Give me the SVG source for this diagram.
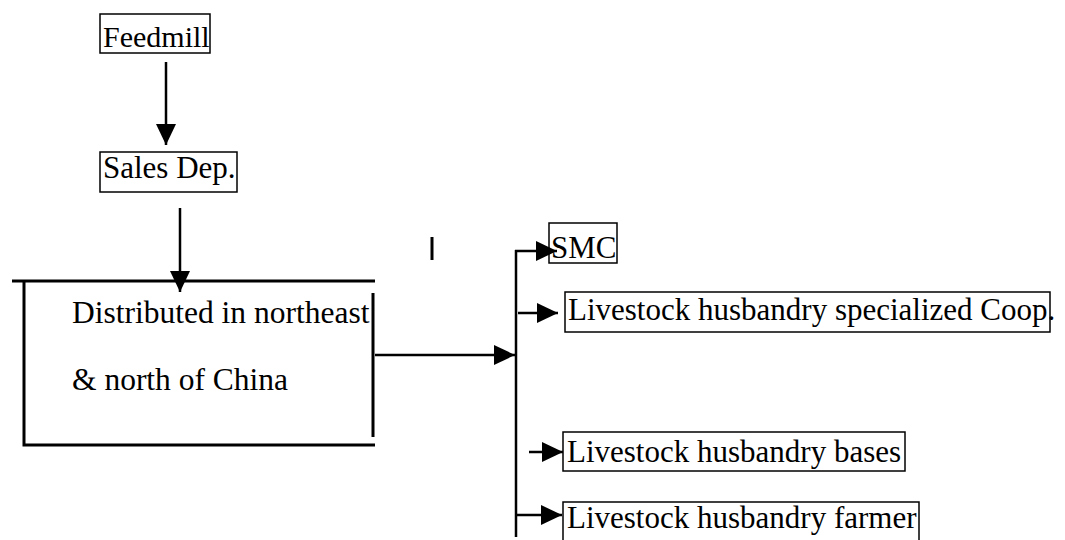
<svg xmlns="http://www.w3.org/2000/svg" width="1065" height="540" viewBox="0 0 1065 540">
<style>
  .box{fill:none;stroke:#000;stroke-width:1.5}
  .txt{font-family:"Liberation Serif","Times New Roman",serif;font-size:31px;fill:#000}
  .frame{stroke:#000;stroke-width:3;fill:none}
  .conn{stroke:#000;stroke-width:2.5;fill:none}
</style>
<defs>
  <marker id="ah" markerUnits="userSpaceOnUse" markerWidth="22" markerHeight="22" refX="21" refY="11" orient="auto" viewBox="0 0 22 22">
    <path d="M0,1 L21,11 L0,21 z" fill="#000"/>
  </marker>
</defs>
<rect width="1065" height="540" fill="#fff"/>
<g id="feedmill">
  <rect class="box" x="100" y="14" width="110" height="39"/>
  <text class="txt" x="103" y="47" style="font-size:30px">Feedmill</text>
</g>
<g id="sales">
  <rect class="box" x="100" y="152" width="137" height="40"/>
  <text class="txt" x="103" y="178">Sales Dep.</text>
</g>
<g id="distributed">
  <path class="frame" d="M12,281 H375 M24,281 V445 H375 M373,293 V437"/>
  <text class="txt" x="72" y="323" style="font-size:31.5px">Distributed in northeast</text>
  <text class="txt" x="72" y="390" style="font-size:31.5px">&amp; north of China</text>
</g>
<g id="smc">
  <rect class="box" x="549" y="223" width="68" height="40"/>
  <text class="txt" x="551" y="258">SMC</text>
</g>
<g id="coop">
  <rect class="box" x="565" y="292" width="485" height="40"/>
  <text class="txt" x="568" y="320">Livestock husbandry specialized Coop.</text>
</g>
<g id="bases">
  <rect class="box" x="563" y="432" width="342" height="39"/>
  <text class="txt" x="567" y="462">Livestock husbandry bases</text>
</g>
<g id="farmer">
  <rect class="box" x="563" y="502" width="356" height="42"/>
  <text class="txt" x="567" y="528">Livestock husbandry farmer</text>
</g>
<g id="connectors">
  <line class="conn" x1="166" y1="62" x2="166" y2="145" marker-end="url(#ah)"/>
  <line class="conn" x1="180" y1="208" x2="180" y2="292" marker-end="url(#ah)"/>
  <line class="conn" x1="375" y1="355" x2="515" y2="355" marker-end="url(#ah)"/>
  <line class="conn" x1="516" y1="250" x2="516" y2="537"/>
  <line class="conn" x1="515" y1="251" x2="557" y2="251" marker-end="url(#ah)"/>
  <line class="conn" x1="518" y1="313" x2="558" y2="313" marker-end="url(#ah)"/>
  <line class="conn" x1="529" y1="452" x2="563" y2="452" marker-end="url(#ah)"/>
  <line class="conn" x1="516" y1="515" x2="562" y2="515" marker-end="url(#ah)"/>
</g>
<line x1="432" y1="237" x2="432" y2="260" stroke="#000" stroke-width="3"/>
</svg>
